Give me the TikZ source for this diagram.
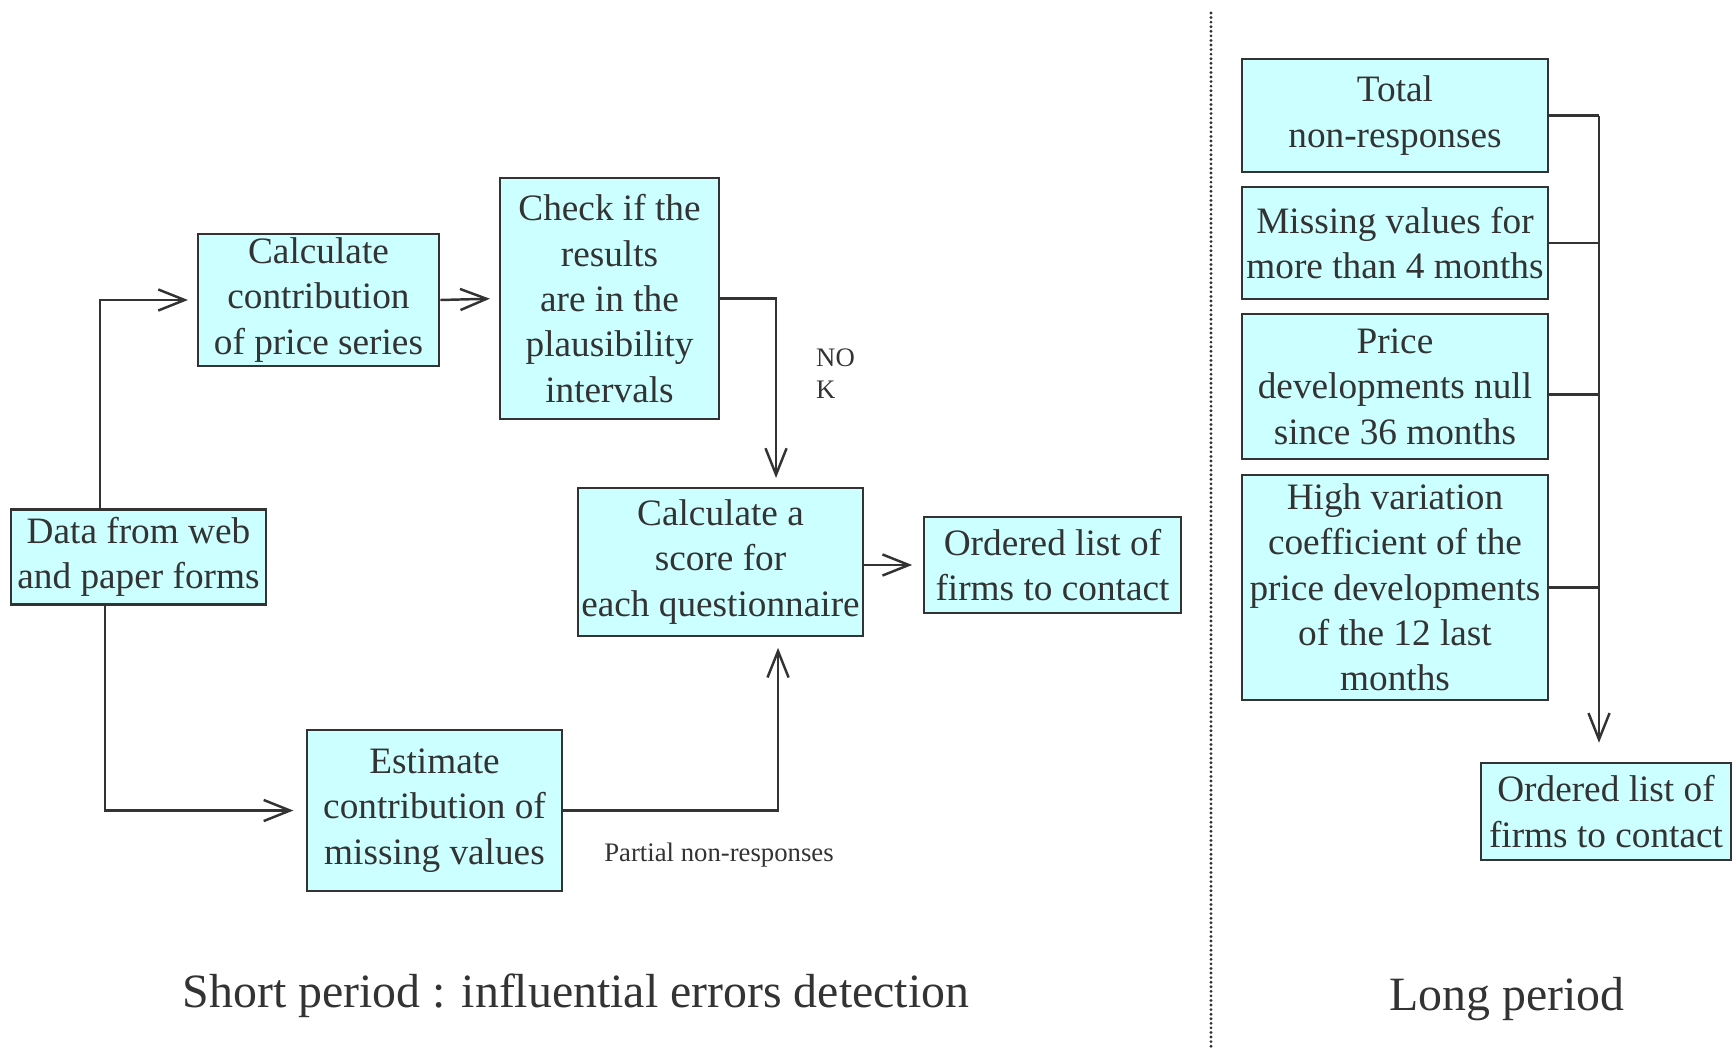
\documentclass[tikz,border=0pt]{standalone}
\usepackage{fontspec}
\setmainfont{Liberation Serif}
\usepackage{xcolor}
\usepackage{tikz}
\usetikzlibrary{arrows.meta}
\definecolor{boxcyan}{HTML}{CCFFFF}
\definecolor{darkline}{HTML}{333333}
\tikzset{
    textnode/.style = {align=center, inner sep=1pt, text=darkline},
    cyan_box/.style = {textnode, rectangle, draw=darkline, fill=boxcyan, line width=0.7pt, font=\fontsize{10.6}{12.9}\selectfont, execute at begin node={\rule{0pt}{9pt}}},
    small_label/.style = {textnode, font=\fontsize{7.6}{9.1}\selectfont},
    title_label/.style = {textnode, font=\fontsize{13.6}{16}\selectfont},
    flow/.style = {->, draw=darkline, line width=0.7pt},
    bus_line/.style = {-, draw=darkline, line width=0.7pt},
    divider/.style = {draw=darkline, line width=0.9pt, line cap=round, dash pattern=on 0pt off 1.3pt}
}

\begin{document}
\begin{tikzpicture}[x=0.01cm, y=-0.01cm, >={Straight Barb[length=7.5pt,width=6pt]}]
    \useasboundingbox (0,0) rectangle (1732,1048);

    \node [cyan_box, minimum width=2.55cm, minimum height=0.95cm] (data) at (138.5,557) {Data from web\\and paper forms};
    \node [cyan_box, minimum width=2.41cm, minimum height=1.32cm] (calc) at (318.5,300) {Calculate\\contribution\\of price series};
    \node [cyan_box, minimum width=2.19cm, minimum height=2.41cm] (check) at (609.5,298.5) {Check if the\\results\\are in the\\plausibility\\intervals};
    \node [cyan_box, minimum width=2.85cm, minimum height=1.48cm] (score) at (720.5,562) {Calculate a\\score for\\each questionnaire};
    \node [cyan_box, minimum width=2.57cm, minimum height=0.96cm] (list_short) at (1052.5,565) {Ordered list of\\firms to contact};
    \node [cyan_box, minimum width=2.55cm, minimum height=1.61cm] (estimate) at (434.5,810.5) {Estimate\\contribution of\\missing values};

    \node [small_label, anchor=north west, align=left] (nok) at (812,345) {NO\\K};
    \node [small_label] (partial) at (719,855) {Partial non-responses};
    \node [title_label] (short_title) at (576,996) {Short period : influential errors detection};

    \draw [flow, shorten >=2.5pt] ([xshift=-0.385cm]data.north) |- (calc.west);
    \draw [flow, shorten >=2.5pt] (calc.east) -- (check.west);
    \draw [flow, shorten >=2.5pt] (check.east) -| ([xshift=0.555cm]score.north);
    \draw [flow, shorten >=3.5pt] ([xshift=-0.335cm]data.south) |- (estimate.west);
    \draw [flow, shorten >=3pt] (estimate.east) -| ([xshift=0.575cm]score.south);
    \draw [flow, shorten >=3pt] (score.east |- list_short.west) -- (list_short.west);

    \coordinate (div_top) at (1211,13);
    \coordinate (div_bottom) at (1211,1048);
    \draw [divider] (div_top) -- (div_bottom);

    \node [cyan_box, minimum width=3.06cm, minimum height=1.13cm] (total) at (1395,115.5) {Total\\non-responses};
    \node [cyan_box, minimum width=3.06cm, minimum height=1.12cm] (missing) at (1395,243) {Missing values for\\more than 4 months};
    \node [cyan_box, minimum width=3.06cm, minimum height=1.45cm] (price) at (1395,386.5) {Price\\developments null\\since 36 months};
    \node [cyan_box, minimum width=3.06cm, minimum height=2.25cm] (variation) at (1395,587.5) {High variation\\coefficient of the\\price developments\\of the 12 last\\months};
    \node [cyan_box, minimum width=2.5cm, minimum height=0.97cm] (list_long) at (1606,811.5) {Ordered list of\\firms to contact};
    \node [title_label] (long_title) at (1507,999) {Long period};

    \coordinate (bus) at (1599,0);
    \draw [bus_line] (total.east) -- (total.east -| bus);
    \draw [bus_line] (missing.east) -- (missing.east -| bus);
    \draw [bus_line] ([yshift=-0.08cm]price.east) -- ([yshift=-0.08cm]price.east -| bus);
    \draw [bus_line] (variation.east) -- (variation.east -| bus);
    \draw [flow, shorten >=5.4pt] (total.east -| bus) -- (list_long.north -| bus);
\end{tikzpicture}
\end{document}
